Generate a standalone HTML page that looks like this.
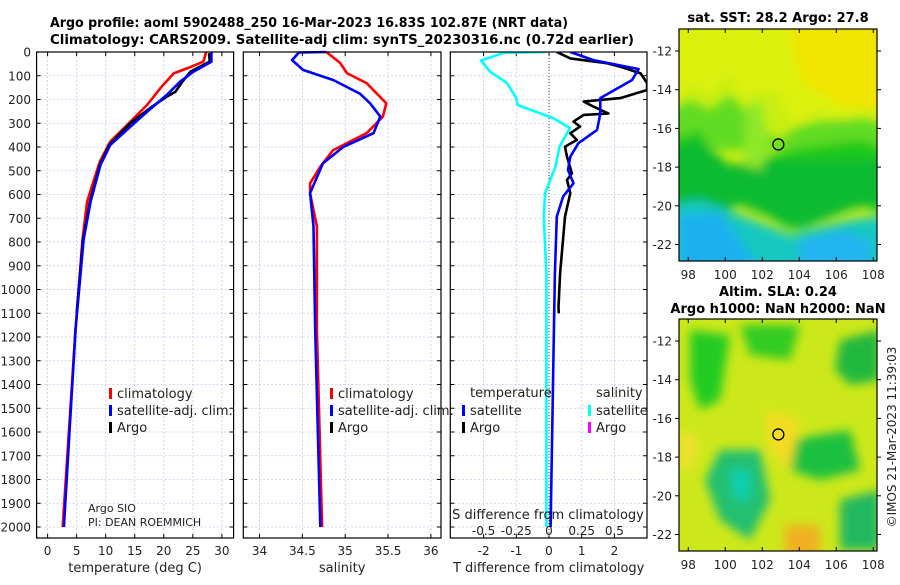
<!DOCTYPE html>
<html><head><meta charset="utf-8"><style>
body{margin:0;background:#fff;}
svg{font-family:"DejaVu Sans","Liberation Sans",sans-serif;}
</style></head><body>
<svg id="chart" width="900" height="580" xmlns="http://www.w3.org/2000/svg">
<defs>
<filter id="blur1" x="-20%" y="-20%" width="140%" height="140%"><feGaussianBlur stdDeviation="5"/></filter>
<clipPath id="mapclip1"><rect x="679" y="29" width="198" height="232"/></clipPath>
<clipPath id="mapclip2"><rect x="679" y="319" width="198" height="232"/></clipPath>
</defs>
<text x="50" y="27" font-size="13" font-weight="bold" textLength="518" lengthAdjust="spacingAndGlyphs">Argo profile: aoml 5902488_250 16-Mar-2023 16.83S 102.87E (NRT data)</text>
<text x="50" y="44" font-size="13" font-weight="bold" textLength="584" lengthAdjust="spacingAndGlyphs">Climatology: CARS2009. Satellite-adj clim: synTS_20230316.nc (0.72d earlier)</text>
<g id="panels"></g>
<g id="maps"></g>
</svg>
<script>
// depth axis
const depthTicks = [0,100,200,300,400,500,600,700,800,900,1000,1100,1200,1300,1400,1500,1600,1700,1800,1900,2000];
// temperature panel
const tTicks = [0,5,10,15,20,25,30];
const tClimDepth = [0,41,69,90,153,223,307,377,461,560,630,790,1170,2000];
const tClimVal   = [27.3,26.8,24.0,21.7,19.4,17.1,13.7,10.8,9.0,7.7,6.8,6.0,4.8,2.6];
const tSatDepth = [0,41,83,125,181,265,391,475,630,790,1170,2000];
const tSatVal   = [28.2,28.2,25.1,22.8,20.5,16.5,10.8,9.1,7.4,6.2,4.8,2.8];
const tArgoDepth = [5,41,83,125,139,167,188,230,265,300,391,475,630,790,1100];
const tArgoVal   = [27.8,27.9,24.6,23.2,22.8,22.0,20.5,18.0,16.1,14.2,10.6,9.0,7.3,6.1,5.0];
// salinity panel
const sTicks = [34,34.5,35,35.5,36];
const sClimDepth = [0,46,89,131,216,272,342,413,483,553,594,735,1170,2000];
const sClimVal   = [34.78,34.94,35.02,35.25,35.48,35.44,35.25,34.86,34.71,34.59,34.59,34.67,34.67,34.73];
const sSatDepth = [0,2,34,76,118,175,216,272,342,399,469,594,735,1170,2000];
const sSatVal   = [34.78,34.46,34.38,34.51,34.86,35.17,35.29,35.41,35.33,34.98,34.74,34.59,34.63,34.65,34.71];
// difference panel
const dTTicks = [-2,-1,0,1,2];
const dSTicks = [-0.5,-0.25,0,0.25,0.5];
const dSSatDepth = [0,3,36,83,131,194,223,278,320,399,483,594,693,932,2000];
const dSSatVal   = [-0.02,-0.34,-0.52,-0.45,-0.32,-0.25,-0.24,0.03,0.16,0.08,0.05,-0.03,-0.04,-0.02,-0.02];
const dTSatDepth = [0,34,72,118,194,259,328,384,441,497,553,609,693,932,1170,2000];
const dTSatVal   = [0.65,1.36,2.74,2.54,1.57,1.57,1.47,0.9,0.65,0.58,0.75,0.43,0.24,0.18,0.15,0.05];
const dTArgoDepth = [0,27,47,62,90,131,160,194,209,230,259,265,293,314,342,370,399,441,511,539,594,693,932,1072,1100];
const dTArgoVal   = [0.24,0.65,1.77,2.18,2.8,3.0,3.0,2.18,1.06,1.36,1.82,1.06,0.75,0.95,0.65,0.85,0.49,0.55,0.7,0.55,0.65,0.49,0.34,0.29,0.3];
// maps
const lonTicks = [98,100,102,104,106,108];
const latTicks = [-12,-14,-16,-18,-20,-22];
const floatLon = 102.87, floatLat = -16.83;

const NS = "http://www.w3.org/2000/svg";
function mk(tag, attrs, parent, text){const e=document.createElementNS(NS,tag);for(const k in attrs)e.setAttribute(k,attrs[k]);if(text!==undefined)e.textContent=text;parent.appendChild(e);return e;}
const P = document.getElementById('panels');
const Y0=52, YS=0.2375, YB=538;
const yOf = d => Y0 + d*YS;

const panels = [
 {x0:36.6,x1:233.6, f:v=>47.6+v*5.81, ticks:tTicks, lab:v=>String(v), title:'temperature (deg C)', name:'temperature-panel'},
 {x0:243.3,x1:441, f:v=>259.5+(v-34)*85.7, ticks:sTicks, lab:v=>String(v), title:'salinity', name:'salinity-panel'},
 {x0:450.3,x1:647, f:v=>549+v*32.7, ticks:dTTicks, lab:v=>String(v), title:'T difference from climatology', name:'difference-panel'}
];
const dSx = v => 549 + v*130.8;

panels.forEach((p,pi)=>{
  const g = mk('g',{},P);
  
  
  depthTicks.forEach(d=>{
    const l=mk('line',{x1:p.x0,x2:p.x1,y1:yOf(d),y2:yOf(d),stroke:'#c8c8e6','stroke-width':0.8,'stroke-dasharray':'2,2'},g);
    
    
  });
  p.ticks.forEach(v=>{
    const x=p.f(v);
    const l=mk('line',{x1:x,x2:x,y1:Y0,y2:YB,stroke:'#c8c8e6','stroke-width':0.8,'stroke-dasharray':'2,2'},g);
    
    
    mk('line',{x1:x,x2:x,y1:YB,y2:YB-4,stroke:'#000'},g);
    mk('line',{x1:x,x2:x,y1:Y0,y2:Y0+4,stroke:'#000'},g);
    const t=mk('text',{x:x,y:555,'text-anchor':'middle','font-size':12,fill:'#222'},g,p.lab(v));
    
    
  });
  depthTicks.forEach(d=>{
    mk('line',{x1:p.x0,x2:p.x0+4,y1:yOf(d),y2:yOf(d),stroke:'#000'},g);
    mk('line',{x1:p.x1,x2:p.x1-4,y1:yOf(d),y2:yOf(d),stroke:'#000'},g);
  });
  const xt=mk('text',{x:(p.x0+p.x1)/2,y:572,'text-anchor':'middle','font-size':13,fill:'#222'},g,p.title);
  
  
});
depthTicks.forEach(d=>{
  const t=mk('text',{x:31,y:yOf(d)+4.5,'text-anchor':'end','font-size':12,fill:'#222'},P,String(d));
  
  
});
const zl=mk('line',{x1:549,x2:549,y1:Y0,y2:YB,stroke:'#444','stroke-dasharray':'1,2'},P);



mk('clipPath',{id:'pclip3'},document.querySelector('defs'));
mk('rect',{x:450.3,y:Y0,width:196.7,height:YB-Y0},document.getElementById('pclip3'));
function series(depths, vals, fx, color, name, clip){
  const pts = depths.map((d,i)=>fx(vals[i]).toFixed(1)+','+yOf(d).toFixed(1)).join(' ');
  const pl = mk('polyline',{points:pts,fill:'none',stroke:color,'stroke-width':2.6,'stroke-linejoin':'round'},P);
  
  
  if(clip) pl.setAttribute('clip-path','url(#pclip3)');
}

series(tClimDepth,tClimVal,panels[0].f,'#ff0000','temp-climatology-line');
series(tArgoDepth,tArgoVal,panels[0].f,'#000000','temp-argo-line');
series(tSatDepth,tSatVal,panels[0].f,'#0000ff','temp-satellite-line');
series(sClimDepth,sClimVal,panels[1].f,'#ff0000','salinity-climatology-line');
series(sSatDepth,sSatVal,panels[1].f,'#0000ff','salinity-satellite-line');
series(dSSatDepth,dSSatVal,dSx,'#00ffff','salinity-diff-satellite-line',true);
series(dTArgoDepth,dTArgoVal,panels[2].f,'#000000','temp-diff-argo-line',true);
series(dTSatDepth,dTSatVal,panels[2].f,'#0000ff','temp-diff-satellite-line',true);

panels.forEach(p=>{
  const r=mk('rect',{x:p.x0,y:Y0,width:p.x1-p.x0,height:YB-Y0,fill:'none',stroke:'#000','stroke-width':1.2},P);
  
  
});

function legendEntry(x,y,color,label){
  const g=mk('g',{},P);
  
  
  mk('rect',{x:x,y:y-9,width:3,height:11,fill:color},g);
  mk('text',{x:x+8,y:y+1,'font-size':13,fill:'#222'},g,label);
}
legendEntry(109,397,'#ff0000','climatology');
legendEntry(109,414,'#0000ff','satellite-adj. clim.');
legendEntry(109,431,'#000000','Argo');
legendEntry(330,397,'#ff0000','climatology');
legendEntry(330,414,'#0000ff','satellite-adj. clim.');
legendEntry(330,431,'#000000','Argo');
let lt=mk('text',{x:470,y:397,'font-size':13,fill:'#222'},P,'temperature');

lt=mk('text',{x:596,y:397,'font-size':13,fill:'#222'},P,'salinity');

legendEntry(462,414,'#0000ff','satellite');
legendEntry(462,431,'#000000','Argo');
legendEntry(588,414,'#00ffff','satellite');
legendEntry(588,431,'#ff00ff','Argo');

let tx=mk('text',{x:88,y:512,'font-size':11,fill:'#222'},P,'Argo SIO');

tx=mk('text',{x:88,y:526,'font-size':11,fill:'#222'},P,'PI: DEAN ROEMMICH');

tx=mk('text',{x:548,y:519,'text-anchor':'middle','font-size':13,fill:'#222'},P,'S difference from climatology');

dSTicks.forEach(v=>{
  const t=mk('text',{x:dSx(v),y:535,'text-anchor':'middle','font-size':12,fill:'#222'},P,String(v));
  
  
});

// ---- maps ----
const M = document.getElementById('maps');
function mapAxes(top, clipId, name, blobs, bg){
  const lonX = v => 679 + (v-97.5)*18.5;
  const latY = v => top + 22 + (-12 - v)*19.35;
  const g=mk('g',{},M);
  
  
  const inner=mk('g',{'clip-path':'url(#'+clipId+')'},g);
  mk('rect',{x:679,y:top,width:198,height:232,fill:bg},inner);
  const bl=mk('g',{filter:'url(#blur1)'},inner);
  blobs.forEach(b=>{
    const e=mk('path',{d:b[0],fill:b[1]},bl);
    
    
  });
  mk('rect',{x:679,y:top,width:198,height:232,fill:'none',stroke:'#000','stroke-width':1.2},g);
  lonTicks.forEach(v=>{
    const x=lonX(v);
    mk('line',{x1:x,x2:x,y1:top+232,y2:top+228,stroke:'#000'},g);
    mk('line',{x1:x,x2:x,y1:top,y2:top+4,stroke:'#000'},g);
    const t=mk('text',{x:x,y:top+250,'text-anchor':'middle','font-size':12,fill:'#222'},g,String(v));
    
    
  });
  latTicks.forEach(v=>{
    const y=latY(v);
    mk('line',{x1:877,x2:881,y1:y,y2:y,stroke:'#000'},g);
    mk('line',{x1:679,x2:675,y1:y,y2:y,stroke:'#000'},g);
    const t=mk('text',{x:672,y:y+4.5,'text-anchor':'end','font-size':12,fill:'#222'},g,String(v));
    
    
  });
  const c=mk('circle',{cx:lonX(floatLon),cy:latY(floatLat),r:5.5,fill:'none',stroke:'#000','stroke-width':1.3},g);
  
  
}
mapAxes(29,'mapclip1','sst-map',[
  ['M670 20 H890 V110 L860 112 L840 130 L820 110 L800 125 L790 120 L780 95 L760 90 L740 100 L730 72 L710 95 L690 85 L670 110 Z','#dcf010'],
  ['M790 20 H890 V110 L840 105 L800 80 Z','#f0e400'],
  ['M670 110 L690 100 L710 110 L730 95 L745 110 L760 130 L780 140 L800 125 L830 120 L860 118 L890 125 V150 L670 150 Z','#60dc20'],
  ['M670 140 L700 130 L720 170 L790 150 L860 140 L890 150 V215 L840 200 L790 230 L740 200 L700 215 L670 190 Z','#1cc81c'],
  ['M670 150 L700 140 L730 165 L770 160 L800 160 L860 160 L890 160 V200 L850 210 L800 230 L740 205 L700 220 L670 210 Z','#0cbb30'],
  ['M670 205 L700 200 L740 215 L790 235 L850 220 L890 215 V270 H670 Z','#18c8c0'],
  ['M680 215 L720 212 L740 240 L760 270 H680 Z','#1ab0f0'],
  ['M800 240 L840 230 L870 240 L870 270 L800 270 Z','#20b4f0'],
  ['M745 110 L760 100 L770 150 L760 170 L745 165 Z','#8ee82a']
],'#c8ee14');
mapAxes(319,'mapclip2','sla-map',[
  ['M690 330 L730 335 L720 400 L700 410 L690 380 Z','#22cc22'],
  ['M740 325 L800 325 L790 360 L750 355 Z','#30cc20'],
  ['M840 340 L880 330 L880 380 L850 385 L835 370 Z','#20b840'],
  ['M720 450 L760 450 L770 500 L750 540 L720 520 L705 480 Z','#20c070'],
  ['M730 470 L750 470 L750 500 L735 500 Z','#10d0b0'],
  ['M790 440 L850 430 L860 470 L820 480 L790 470 Z','#1cc040'],
  ['M840 500 L880 490 L880 550 L840 550 Z','#20b860'],
  ['M765 410 L800 420 L790 470 L770 450 Z','#f4dc20'],
  ['M785 525 L820 525 L820 560 L785 560 Z','#f0b020'],
  ['M680 430 L700 440 L690 470 L680 470 Z','#f0e030']
],'#cde81a');
let mt=mk('text',{x:778,y:22,'text-anchor':'middle','font-size':13,'font-weight':'bold'},M,'sat. SST: 28.2 Argo: 27.8');

mt=mk('text',{x:778,y:296,'text-anchor':'middle','font-size':13,'font-weight':'bold'},M,'Altim. SLA: 0.24');

mt=mk('text',{x:778,y:313,'text-anchor':'middle','font-size':13,'font-weight':'bold'},M,'Argo h1000: NaN h2000: NaN');

mt=mk('text',{x:0,y:0,'text-anchor':'middle','font-size':12,fill:'#222',transform:'translate(896,437) rotate(-90)'},M,'©IMOS 21-Mar-2023 11:39:03');

</script>
</body></html>
